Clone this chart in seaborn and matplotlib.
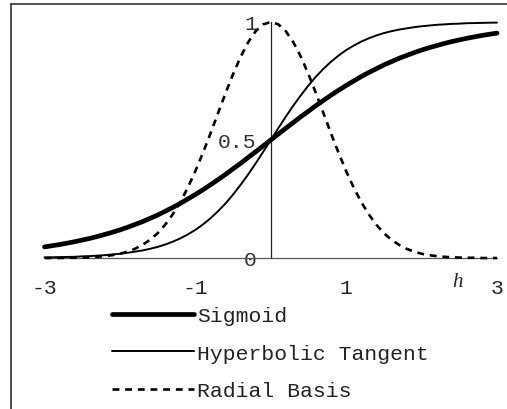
import numpy as np
import pandas as pd
import seaborn as sns
import matplotlib
matplotlib.use("Agg")
import matplotlib.pyplot as plt
from matplotlib.lines import Line2D

# ---- data (h from -3 to 3, step 0.1) ----
h_values = [round(-3 + 0.1 * i, 1) for i in range(61)]

sigmoid_pos = [0.500, 0.525, 0.550, 0.574, 0.599, 0.622, 0.646, 0.668, 0.690, 0.711,
               0.731, 0.750, 0.769, 0.786, 0.802, 0.818, 0.832, 0.846, 0.858, 0.870,
               0.881, 0.891, 0.900, 0.909, 0.917, 0.924, 0.931, 0.937, 0.943, 0.948, 0.953]
tanh_pos = [0.500, 0.550, 0.599, 0.646, 0.690, 0.731, 0.769, 0.802, 0.832, 0.858,
            0.881, 0.900, 0.917, 0.931, 0.943, 0.953, 0.961, 0.968, 0.973, 0.978,
            0.982, 0.985, 0.988, 0.990, 0.992, 0.993, 0.995, 0.9955, 0.9963, 0.997, 0.9975]
rbf_pos = [1.000, 0.990, 0.961, 0.914, 0.852, 0.779, 0.698, 0.613, 0.527, 0.445,
           0.368, 0.298, 0.237, 0.185, 0.141, 0.105, 0.077, 0.056, 0.039, 0.027,
           0.018, 0.012, 0.008, 0.005, 0.003, 0.002, 0.001, 0.001, 0.000, 0.000, 0.000]

sigmoid = [round(1 - v, 4) for v in sigmoid_pos[:0:-1]] + sigmoid_pos
tanh_curve = [round(1 - v, 4) for v in tanh_pos[:0:-1]] + tanh_pos
rbf = rbf_pos[:0:-1] + rbf_pos

series_names = ["Sigmoid", "Hyperbolic Tangent", "Radial Basis"]
x_ticks = [-3, -1, 1, 3]
x_tick_labels = ["-3", "-1", "1", "3"]
y_ticks = [0, 0.5, 1]
y_tick_labels = ["0", "0.5", "1"]

df = pd.DataFrame({
    "h": h_values * 3,
    "value": sigmoid + tanh_curve + rbf,
    "series": [series_names[0]] * 61 + [series_names[1]] * 61 + [series_names[2]] * 61,
})

sns.set_style("white")
plt.rcParams["font.family"] = ["Liberation Mono", "DejaVu Sans"]

W, H = 507, 410
fig = plt.figure(figsize=(W / 100, H / 100), dpi=100)
x0, x1 = 44.5, 497.0
y0, y1 = 259.0, 23.0
ax = fig.add_axes([x0 / W, (H - y0) / H, (x1 - x0) / W, (y0 - y1) / H])

styles = {
    "Sigmoid": dict(lw=3.4, ls="-"),
    "Hyperbolic Tangent": dict(lw=1.4, ls="-"),
    "Radial Basis": dict(lw=1.9, ls=(0, (2.6, 2.2))),
}
for name in series_names:
    sub = df[df["series"] == name]
    sns.lineplot(data=sub, x="h", y="value", ax=ax, color="black",
                 linewidth=styles[name]["lw"], linestyle=styles[name]["ls"],
                 label=name, clip_on=False, zorder=3)

ax.set_xlim(-3, 3)
ax.set_ylim(0, 1)
ax.set_xlabel("")
ax.set_ylabel("")

for s in ["top", "right"]:
    ax.spines[s].set_visible(False)
ax.spines["left"].set_position(("data", 0))
ax.spines["left"].set_color("#222222")
ax.spines["left"].set_linewidth(0.9)
ax.spines["bottom"].set_color("#555555")
ax.spines["bottom"].set_linewidth(0.9)

FS = 15.4
ax.set_xticks(x_ticks)
ax.set_xticklabels(x_tick_labels)
ax.set_yticks(y_ticks)
ax.set_yticklabels(y_tick_labels)
ax.tick_params(axis="x", direction="inout", length=7.2, width=0.8, color="#333333",
               pad=10.5, labelsize=FS, labelcolor="#222222")
ax.tick_params(axis="y", length=0, pad=10, labelsize=FS, labelcolor="#333333")

ax.text(2.48, -0.098, "h", transform=ax.transData, fontsize=15, style="italic",
        family="Liberation Serif", ha="center", va="center", color="#222222")

leg = ax.legend(loc="upper left", bbox_to_anchor=(112 / W, 1 - 307 / H),
                bbox_transform=fig.transFigure, frameon=False, fontsize=FS,
                handlelength=3.85, handletextpad=0.14, labelspacing=0.87,
                borderpad=0, borderaxespad=0)
for t in leg.get_texts():
    t.set_color("#222222")

# figure frame (left and top edges)
fig.add_artist(Line2D([11 / W, 11 / W], [0, 1 - 5 / H], transform=fig.transFigure,
                      color="#333333", lw=1.2))
fig.add_artist(Line2D([11 / W, 1], [1 - 5 / H, 1 - 5 / H], transform=fig.transFigure,
                      color="#333333", lw=1.2))

fig.savefig("out.png", dpi=100)
